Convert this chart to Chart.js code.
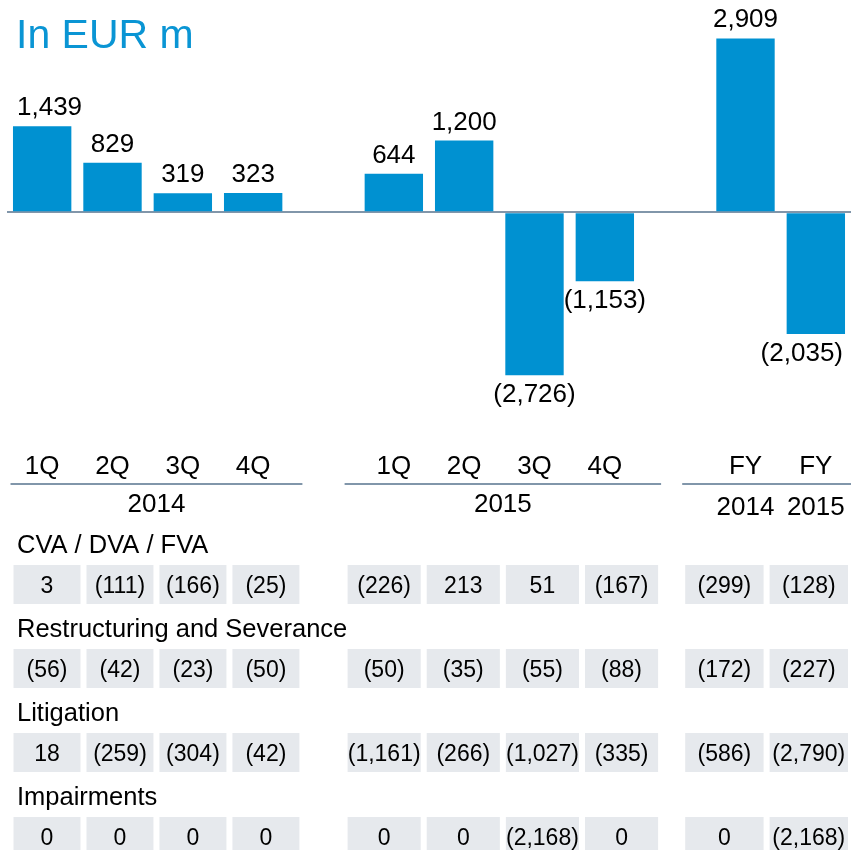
<!DOCTYPE html>
<html>
<head>
<meta charset="utf-8">
<title>In EUR m</title>
<script src="https://cdn.jsdelivr.net/npm/chart.js@4.4.1/dist/chart.umd.min.js"></script>
<style>
  html, body { margin: 0; padding: 0; background: #fff; overflow: hidden; }
  #wrap { width: 851px; height: 850px; }
</style>
</head>
<body>
<div id="wrap"><canvas id="chart" width="851" height="850"></canvas></div>
<script>
// bar chart data
const quarterLabels = ['1Q', '2Q', '3Q', '4Q', '', '1Q', '2Q', '3Q', '4Q', '', 'FY', 'FY'];
const netValues = [1439, 829, 319, 323, null, 644, 1200, -2726, -1153, null, 2909, -2035];
const groupLabels = ['2014', '2015'];
const fyYears = ['2014', '2015'];

// table below the chart (1Q-4Q 2014, 1Q-4Q 2015, FY 2014, FY 2015)
const rowNames = ['CVA / DVA / FVA', 'Restructuring and Severance', 'Litigation', 'Impairments'];
const cvaValues = [3, -111, -166, -25, -226, 213, 51, -167, -299, -128];
const restructuringValues = [-56, -42, -23, -50, -50, -35, -55, -88, -172, -227];
const litigationValues = [18, -259, -304, -42, -1161, -266, -1027, -335, -586, -2790];
const impairmentValues = [0, 0, 0, 0, 0, 0, -2168, 0, 0, -2168];
const tableRows = [cvaValues, restructuringValues, litigationValues, impairmentValues];

const FONT = '"Liberation Sans", Arial, sans-serif';
const BLUE = '#0091d1';
const LINE = '#8196aa';

function fmt(v) {
  const s = Math.abs(v).toLocaleString('en-US');
  return v < 0 ? '(' + s + ')' : s;
}

// spans of the three column groups, in category units
const groupSpans = [[-0.45, 3.7], [4.3, 8.8], [9.1, 11.5]];
const groupCols = [[0, 1, 2, 3], [4, 5, 6, 7], [8, 9]];

const extras = {
  id: 'extras',
  afterDraw(chart) {
    const ctx = chart.ctx;
    const x = chart.scales.x;
    ctx.save();

    // title
    ctx.font = '41px ' + FONT;
    ctx.fillStyle = '#0a95d4';
    ctx.textAlign = 'left';
    ctx.textBaseline = 'alphabetic';
    ctx.fillText('In EUR m', 16, 48);

    // value labels on the bars, kept inside the page
    ctx.font = '26px ' + FONT;
    ctx.fillStyle = '#000';
    ctx.textAlign = 'center';
    const meta = chart.getDatasetMeta(0);
    meta.data.forEach((bar, i) => {
      const v = netValues[i];
      if (v == null) return;
      const txt = fmt(v);
      const half = ctx.measureText(txt).width / 2;
      const cx = Math.min(Math.max(bar.x, 17 + half), chart.width - 8 - half);
      const ty = v >= 0 ? bar.y - 11 : bar.y + 27;
      ctx.fillText(txt, cx, ty);
    });

    // group lines and year labels
    const lineY = x.bottom - 7;
    ctx.strokeStyle = LINE;
    ctx.lineWidth = 2;
    const spans = groupSpans.map(s => [
      x.getPixelForValue(s[0]),
      Math.min(x.getPixelForValue(s[1]), chart.width)
    ]);
    spans.forEach(s => {
      ctx.beginPath();
      ctx.moveTo(s[0], lineY);
      ctx.lineTo(s[1], lineY);
      ctx.stroke();
    });
    ctx.font = '26px ' + FONT;
    groupLabels.forEach((g, i) => {
      ctx.fillText(g, (spans[i][0] + spans[i][1]) / 2, lineY + 28);
    });
    fyYears.forEach((g, i) => {
      ctx.fillText(g, x.getPixelForValue(10 + i), lineY + 31);
    });

    // table rows
    const boxH = 39;
    tableRows.forEach((row, r) => {
      const top = lineY + 81 + r * 84;
      ctx.font = '25.5px ' + FONT;
      ctx.textAlign = 'left';
      ctx.fillStyle = '#000';
      ctx.fillText(rowNames[r], 17, top - 12);

      ctx.font = '23px ' + FONT;
      ctx.textAlign = 'center';
      groupCols.forEach((cols, g) => {
        const w = (spans[g][1] - spans[g][0]) / cols.length;
        cols.forEach((c, k) => {
          const left = spans[g][0] + k * w + 3;
          const right = spans[g][0] + (k + 1) * w - 3;
          ctx.fillStyle = '#e6e9ed';
          ctx.fillRect(left, top, right - left, boxH);
          ctx.fillStyle = '#000';
          ctx.fillText(fmt(row[c]), (left + right) / 2, top + boxH / 2 + 8);
        });
      });
    });

    ctx.restore();
  }
};

new Chart(document.getElementById('chart'), {
  type: 'bar',
  data: {
    labels: quarterLabels,
    datasets: [{
      data: netValues,
      backgroundColor: BLUE,
      borderWidth: 0,
      categoryPercentage: 1,
      barPercentage: 0.83,
      clip: false
    }]
  },
  options: {
    responsive: false,
    animation: false,
    layout: { padding: { left: 7, right: 0, top: 20, bottom: 359 } },
    plugins: {
      legend: { display: false },
      tooltip: { enabled: false },
      title: { display: false }
    },
    scales: {
      x: {
        grid: { display: false, drawTicks: false },
        border: { display: false },
        ticks: {
          color: '#000',
          font: { family: FONT, size: 26 },
          padding: 9,
          maxRotation: 0,
          autoSkip: false
        }
      },
      y: {
        min: -3840,
        max: 3218,
        afterBuildTicks: scale => { scale.ticks = [{ value: 0 }]; },
        grid: {
          drawTicks: false,
          color: LINE,
          lineWidth: 2
        },
        border: { display: false },
        ticks: { display: false }
      }
    }
  },
  plugins: [extras]
});
</script>
</body>
</html>
